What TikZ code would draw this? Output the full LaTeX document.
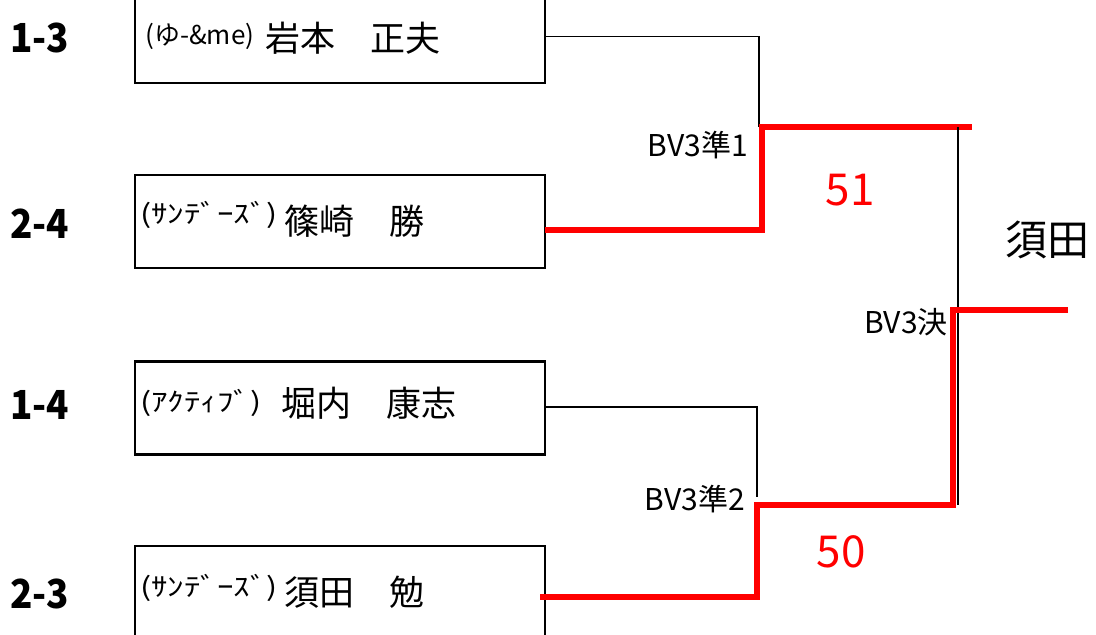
\documentclass[tikz,border=0pt]{standalone}
\usepackage{fontspec}
\setmainfont{Noto Sans CJK JP}
\newfontfamily\jp{Noto Sans CJK JP}
\begin{document}
\begin{tikzpicture}[x=1pt,y=-1pt,
  box/.style={draw, line width=2.5pt, minimum width=410pt, minimum height=93pt, inner sep=0pt, outer sep=0pt},
  seedlbl/.style={anchor=west, inner sep=0pt, xscale=0.92, font=\jp\bfseries\fontsize{40}{40}\selectfont},
  teamlbl/.style={anchor=west, inner sep=0pt, xscale=1.27, font=\jp\fontsize{26}{26}\selectfont},
  personlbl/.style={anchor=west, inner sep=0pt, font=\jp\fontsize{35}{35}\selectfont},
  matchlbl/.style={anchor=east, inner sep=0pt, font=\jp\fontsize{30}{30}\selectfont},
  scorelbl/.style={inner sep=0pt, text=red, font=\jp\fontsize{44}{44}\selectfont},
  thinline/.style={line width=1.5pt},
  winline/.style={red, line width=6pt}]
\path[use as bounding box] (0,0) rectangle (1096,635);

% boxes
\node[box] (b1) at (340,36.5) {};
\node[box] (b2) at (340,221.5) {};
\node[box] (b3) at (340,408) {};
\node[box] (b4) at (340,592.5) {};

% seeds
\node[seedlbl] (s1) at (10,38) {1-3};
\node[seedlbl] (s2) at (10,224) {2-4};
\node[seedlbl] (s3) at (10,405) {1-4};
\node[seedlbl] (s4) at (10,594) {2-3};

% teams and names
\node[teamlbl, xscale=0.79] (t1) at (145,36) {(ゆ-\&me)};
\node[personlbl] (n1) at (265,38) {岩本　正夫};
\node[teamlbl] (t2) at (140,215) {(ｻﾝﾃﾞｰｽﾞ)};
\node[personlbl] (n2) at (284,221) {篠崎　勝};
\node[teamlbl] (t3) at (140,403) {(ｱｸﾃｨﾌﾞ)};
\node[personlbl] (n3) at (281,403) {堀内　康志};
\node[teamlbl] (t4) at (140,588) {(ｻﾝﾃﾞｰｽﾞ)};
\node[personlbl] (n4) at (284,592) {須田　勉};

% bracket points
\coordinate (j1) at (759,127);
\coordinate (j2) at (757,505);
\coordinate (jf) at (958,310);
\coordinate (e1) at (972,127);
\coordinate (ef) at (1068,310);

% semifinal 1
\draw[thinline] (b1.east) -| (j1);
\draw[winline] (b2.east |- 0,230) -| ([xshift=3pt]j1) -- (e1);
% semifinal 2
\draw[thinline] (b3.east |- 0,407) -| (j2 |- 0,497);
\draw[winline] (540,597) -| (j2) -- (953,505);
% final
\draw[thinline] (e1 -| jf) -- (jf |- j2);
\draw[winline] (ef) -- ([xshift=-5pt]jf) |- (j2);

% labels
\node[matchlbl] (m1) at (748,145) {BV3準1};
\node[matchlbl] (m2) at (745,499) {BV3準2};
\node[matchlbl] (mf) at (948,322) {BV3決};
\node[scorelbl] (sc1) at (850,190) {51};
\node[scorelbl] (sc2) at (841,552) {50};
\node[inner sep=0pt, font=\jp\fontsize{42}{42}\selectfont] (w) at (1047,240) {須田};
\end{tikzpicture}
\end{document}
